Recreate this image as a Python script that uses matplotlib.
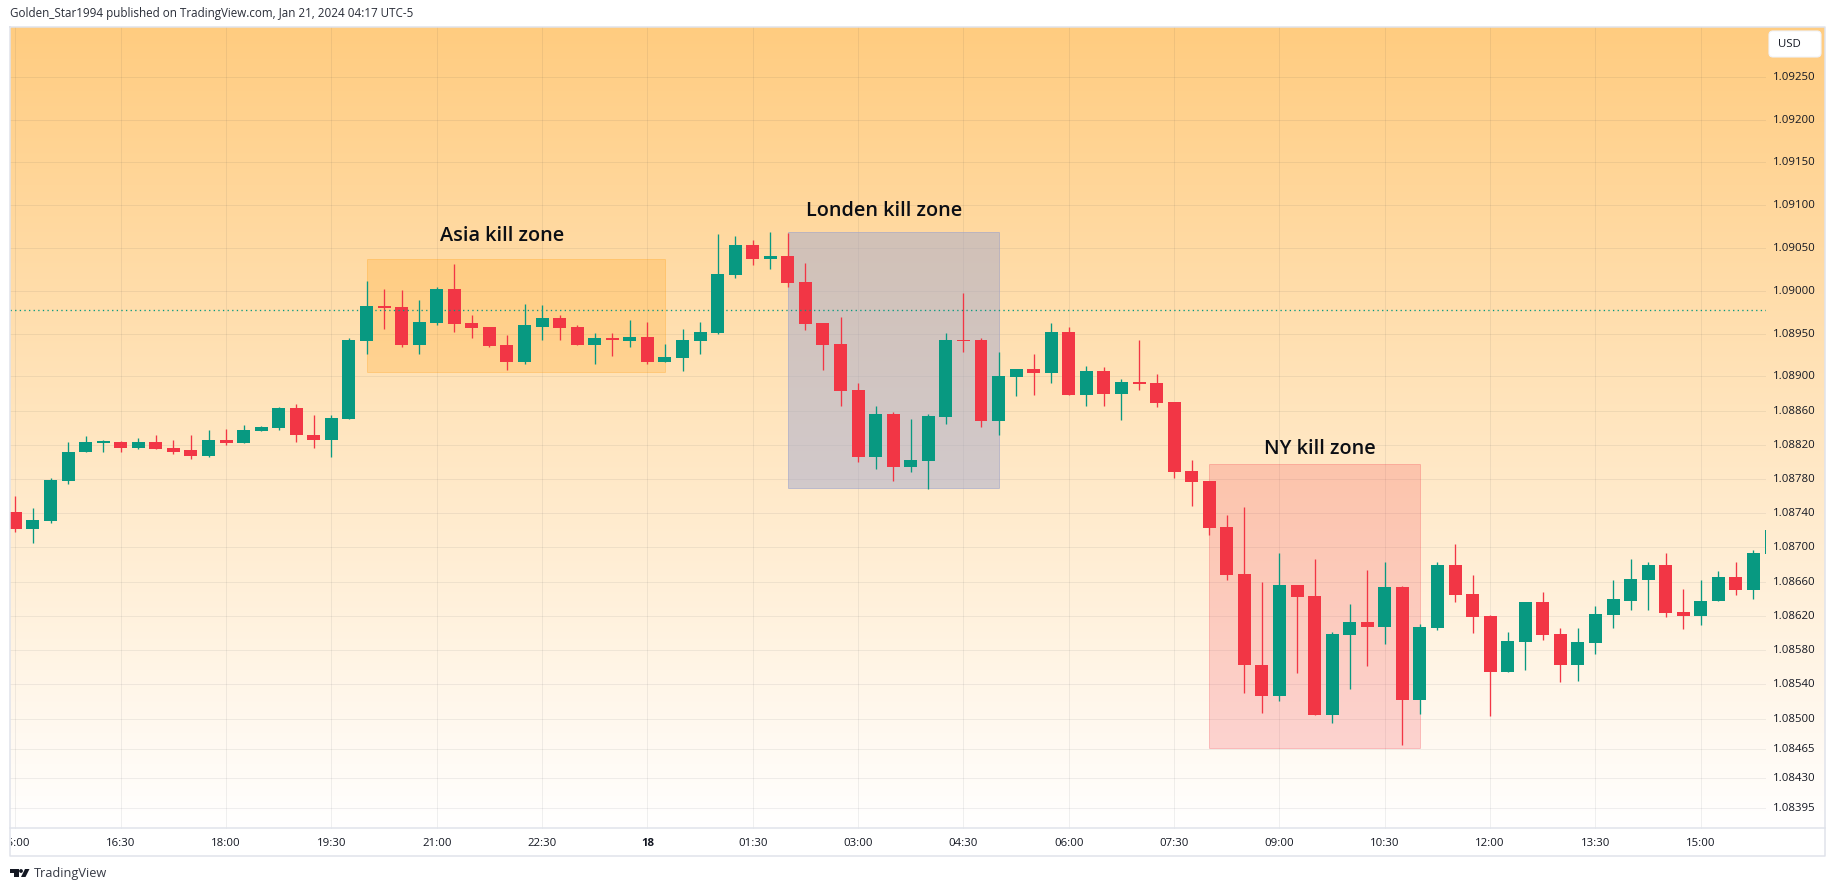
import numpy as np
import matplotlib
matplotlib.use("Agg")
import matplotlib.pyplot as plt
from matplotlib.patches import Rectangle, FancyBboxPatch, Circle, Polygon
from matplotlib.transforms import Bbox, ScaledTranslation

W, H = 1835, 891

opens = [
1.08741,1.08721,1.08731,1.08778,1.08812,1.08822,1.08823,1.08816,1.08823,1.08816,
1.08814,1.08807,1.08826,1.08822,1.08836,1.08840,1.08863,1.08832,1.08826,1.08850,
1.08941,1.08982,1.08981,1.08937,1.08962,1.09002,1.08962,1.08958,1.08937,1.08917,
1.08958,1.08968,1.08958,1.08937,1.08945,1.08941,1.08946,1.08917,1.08921,1.08941,
1.08951,1.09018,1.09053,1.09037,1.09041,1.09010,1.08962,1.08938,1.08884,1.08806,
1.08856,1.08794,1.08801,1.08852,1.08943,1.08943,1.08848,1.08899,1.08909,1.08904,
1.08952,1.08878,1.08906,1.08879,1.08893,1.08892,1.08870,1.08789,1.08778,1.08724,
1.08669,1.08563,1.08526,1.08656,1.08643,1.08504,1.08598,1.08613,1.08607,1.08654,
1.08522,1.08606,1.08680,1.08646,1.08620,1.08555,1.08589,1.08636,1.08599,1.08563,
1.08588,1.08621,1.08638,1.08662,1.08680,1.08625,1.08620,1.08637,1.08666,1.08650,
1.08692]
closes = [
1.08721,1.08732,1.08779,1.08812,1.08823,1.08824,1.08816,1.08823,1.08815,1.08812,
1.08807,1.08826,1.08822,1.08837,1.08841,1.08863,1.08831,1.08826,1.08851,1.08943,
1.08982,1.08980,1.08937,1.08963,1.09002,1.08961,1.08957,1.08935,1.08917,1.08960,
1.08968,1.08957,1.08937,1.08945,1.08942,1.08946,1.08917,1.08923,1.08943,1.08952,
1.09020,1.09053,1.09037,1.09041,1.09009,1.08961,1.08937,1.08883,1.08806,1.08856,
1.08794,1.08802,1.08854,1.08943,1.08941,1.08848,1.08900,1.08909,1.08904,1.08952,
1.08878,1.08906,1.08879,1.08893,1.08891,1.08869,1.08788,1.08777,1.08723,1.08668,
1.08563,1.08526,1.08656,1.08642,1.08504,1.08599,1.08613,1.08607,1.08654,1.08522,
1.08607,1.08680,1.08644,1.08619,1.08555,1.08591,1.08636,1.08598,1.08563,1.08589,
1.08622,1.08640,1.08663,1.08680,1.08623,1.08620,1.08638,1.08666,1.08650,1.08694,
1.08720]
highs = [
1.08760,1.08746,1.08781,1.08823,1.08830,1.08826,1.08825,1.08828,1.08831,1.08826,
1.08832,1.08837,1.08838,1.08843,1.08842,1.08864,1.08868,1.08855,1.08855,1.08945,
1.09011,1.09002,1.09001,1.08989,1.09004,1.09031,1.08972,1.08958,1.08948,1.08984,
1.08983,1.08972,1.08960,1.08951,1.08951,1.08966,1.08963,1.08938,1.08955,1.08963,
1.09066,1.09064,1.09059,1.09069,1.09068,1.09032,1.08962,1.08969,1.08892,1.08865,
1.08858,1.08850,1.08856,1.08951,1.08998,1.08945,1.08929,1.08909,1.08926,1.08962,
1.08958,1.08912,1.08911,1.08897,1.08943,1.08903,1.08870,1.08802,1.08778,1.08738,
1.08747,1.08660,1.08694,1.08656,1.08686,1.08601,1.08634,1.08674,1.08683,1.08655,
1.08611,1.08683,1.08704,1.08668,1.08621,1.08601,1.08636,1.08648,1.08606,1.08606,
1.08632,1.08662,1.08686,1.08683,1.08694,1.08652,1.08662,1.08672,1.08683,1.08697,
1.08720]
lows = [
1.08718,1.08705,1.08729,1.08774,1.08812,1.08812,1.08812,1.08815,1.08815,1.08809,
1.08803,1.08806,1.08820,1.08822,1.08836,1.08837,1.08823,1.08816,1.08806,1.08850,
1.08926,1.08955,1.08934,1.08926,1.08960,1.08952,1.08945,1.08934,1.08907,1.08915,
1.08943,1.08943,1.08937,1.08914,1.08924,1.08934,1.08915,1.08917,1.08906,1.08926,
1.08949,1.09015,1.09030,1.09026,1.09004,1.08954,1.08907,1.08865,1.08800,1.08792,
1.08778,1.08788,1.08768,1.08844,1.08929,1.08841,1.08831,1.08877,1.08878,1.08892,
1.08878,1.08865,1.08865,1.08849,1.08884,1.08864,1.08781,1.08749,1.08715,1.08662,
1.08530,1.08506,1.08521,1.08553,1.08504,1.08495,1.08534,1.08561,1.08587,1.08469,
1.08505,1.08604,1.08636,1.08600,1.08503,1.08555,1.08557,1.08592,1.08543,1.08544,
1.08575,1.08606,1.08627,1.08627,1.08619,1.08605,1.08609,1.08637,1.08644,1.08640,
1.08692]

x_tick_pos = [0, 6, 12, 18, 24, 30, 36, 42, 48, 54, 60, 66, 72, 78, 84, 90, 96]
x_tick_labels = ["15:00", "16:30", "18:00", "19:30", "21:00", "22:30", "18", "01:30", "03:00",
                 "04:30", "06:00", "07:30", "09:00", "10:30", "12:00", "13:30", "15:00"]
y_ticks = [1.09250, 1.09200, 1.09150, 1.09100, 1.09050, 1.09000, 1.08950, 1.08900, 1.08860,
           1.08820, 1.08780, 1.08740, 1.08700, 1.08660, 1.08620, 1.08580, 1.08540, 1.08500,
           1.08465, 1.08430, 1.08395]
last_price = 1.08977

zone_names = ["Asia kill zone", "Londen kill zone", "NY kill zone"]
zone_start = [20, 44, 68]
zone_end = [37, 56, 80]
zone_top = [1.09037, 1.09069, 1.08798]
zone_bottom = [1.08905, 1.08770, 1.08466]
zone_label_x = [27.7, 49.5, 74.3]
zone_label_y = [1.09064, 1.09093, 1.08815]
zone_fill = [(1.0, 0.596, 0.0, 0.20), (0.647, 0.667, 0.804, 0.50), (0.949, 0.212, 0.271, 0.20)]
zone_edge = [(1.0, 0.596, 0.0, 0.25), (0.60, 0.63, 0.80, 0.55), (0.949, 0.212, 0.271, 0.25)]

GREEN, RED = "#089981", "#F23645"
TEXT = "#131722"
FONT = "Open Sans"
plt.rcParams["font.family"] = [FONT, "DejaVu Sans"]

fig = plt.figure(figsize=(W / 100, H / 100), dpi=100, facecolor="white")

def rect(l, t, r, b):
    return [l / W, 1 - b / H, (r - l) / W, (b - t) / H]

# gradient background under the pane and the price scale
bg = fig.add_axes(rect(10, 27, 1825, 828), zorder=0)
grad = np.linspace(0, 1, 400)[:, None, None]
top = np.array([255, 204, 128]).reshape(1, 1, 3) / 255
bot = np.array([255, 255, 255]).reshape(1, 1, 3) / 255
img = top * (1 - grad) + bot * grad
bg.imshow(img, aspect="auto", interpolation="bilinear")
bg.axis("off")

# main pane
ax = fig.add_axes(rect(10, 27.3, 1765.5, 828.5), zorder=2)
ax.patch.set_alpha(0)
ax.set_xlim(-0.308, 99.685)
ax.set_ylim(1.083715, 1.09308)
for s in ax.spines.values():
    s.set_visible(False)

ax.set_yticks(y_ticks)
ax.set_yticklabels([f"{v:.5f}" for v in y_ticks], fontsize=8.2, color=TEXT)
ax.yaxis.tick_right()
ax.tick_params(axis="y", length=0, pad=5.4)
up = ScaledTranslation(0, 1.0 / 100, fig.dpi_scale_trans)
for lab in ax.get_yticklabels():
    lab.set_transform(lab.get_transform() + up)
ax.set_xticks(x_tick_pos)
ax.set_xticklabels(x_tick_labels, fontsize=8.2, color=TEXT)
ax.tick_params(axis="x", length=0, pad=6.8)
clip = Bbox([[10.5, 0], [W, H]])
for lab, name in zip(ax.get_xticklabels(), x_tick_labels):
    lab.set_clip_on(True)
    lab.set_clip_box(clip)
    if name == "18":
        lab.set_fontweight("bold")
ax.grid(True, color="#2a2e39", alpha=0.07, lw=0.75, zorder=1)
ax.set_axisbelow(True)

# kill zones under candles
for i in range(len(zone_names)):
    ax.add_patch(Rectangle((zone_start[i], zone_bottom[i]), zone_end[i] - zone_start[i],
                           zone_top[i] - zone_bottom[i], facecolor=zone_fill[i],
                           edgecolor=zone_edge[i], lw=0.72, zorder=2))
    ax.text(zone_label_x[i], zone_label_y[i], zone_names[i], ha="center", va="center",
            fontsize=14.3, fontweight="semibold", color="#0b0e14", zorder=6)

# candles
idx = np.arange(len(opens))
o, c, h, l = map(np.array, (opens, closes, highs, lows))
cols = [GREEN if cc >= oo else RED for oo, cc in zip(o, c)]
ax.vlines(idx, l, h, colors=cols, lw=0.95, zorder=3)
ax.bar(idx, np.maximum(np.abs(c - o), 0.000012), bottom=np.minimum(o, c), width=0.74,
       color=cols, linewidth=0, zorder=4)

ax.axhline(last_price, color=GREEN, lw=0.95, ls=(0, (1, 2.5)), zorder=5)

# chrome in pixel coordinates
ov = fig.add_axes([0, 0, 1, 1], zorder=3)
ov.set_xlim(0, W)
ov.set_ylim(H, 0)
ov.axis("off")
line = "#e0e3eb"
ov.plot([10, 10, 1825, 1825, 10], [27, 856, 856, 27, 27], color=line, lw=1.1)
ov.plot([10, 1825], [828, 828], color=line, lw=1.1)
ov.add_patch(FancyBboxPatch((1772, 34), 46, 20, boxstyle="round,pad=3,rounding_size=4",
                            facecolor="white", edgecolor="#f0f3fa", lw=0.8))
ov.text(1778, 44.5, "USD", fontsize=8.2, color=TEXT, va="center", ha="left")
ov.text(10, 14, "Golden_Star1994 published on TradingView.com, Jan 21, 2024 04:17 UTC-5",
        fontsize=8.37, color="#2a2e39", va="center", ha="left")
# TradingView logo
ov.add_patch(Polygon([(10, 869), (18.5, 869), (18.5, 877), (14, 877), (14, 872.5), (10, 872.5)],
                     facecolor=TEXT, edgecolor="none"))
ov.add_patch(Circle((21, 871), 1.9, facecolor=TEXT, edgecolor="none"))
ov.add_patch(Polygon([(25, 869), (29.5, 869), (25.5, 877), (21, 877)], facecolor=TEXT, edgecolor="none"))
ov.text(33.5, 873.5, "TradingView", fontsize=9.2, color="#363a45", va="center", ha="left")

fig.savefig("out.png", dpi=100)
